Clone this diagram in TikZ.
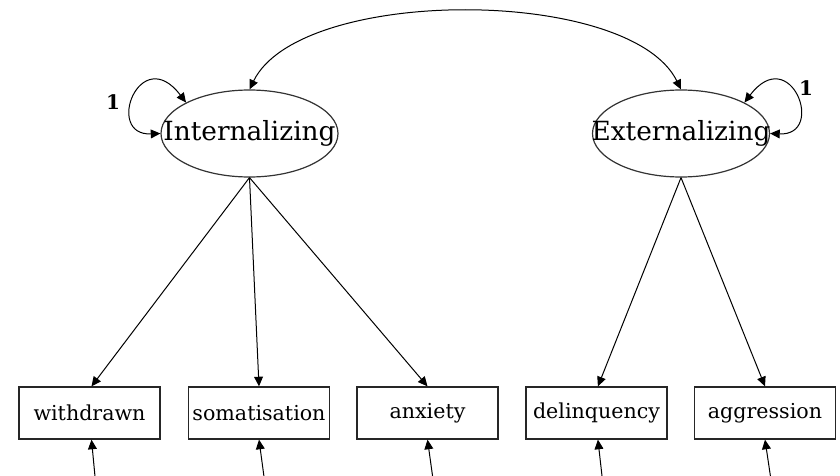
\documentclass[tikz,border=0pt]{standalone}
\usepackage{fontspec}
\setmainfont{DejaVu Serif}
\usetikzlibrary{arrows.meta,shapes.geometric}
\begin{document}
\begin{tikzpicture}[x=0.5pt,y=-0.5pt,
  latent/.style={ellipse,draw=black!80,line width=0.6pt,minimum width=88.5pt,minimum height=43.5pt,inner sep=0pt},
  latentname/.style={font=\fontsize{13.2}{15}\selectfont,inner sep=0pt},
  observed/.style={rectangle,draw=black!85,line width=0.65pt,minimum width=70.5pt,minimum height=26pt,inner sep=0pt,font=\fontsize{10.3}{12}\selectfont},
  link/.style={-{Triangle[length=4.8pt,width=4.4pt]},line width=0.5pt},
  twoway/.style={{Triangle[length=4.8pt,width=4.4pt]}-{Triangle[length=4.8pt,width=4.4pt]},line width=0.5pt},
  fixedval/.style={font=\bfseries\fontsize{10}{12}\selectfont,inner sep=0pt}
]
\clip (0,0) rectangle (840,476);

% latent factors
\node[latent,label={[latentname]center:Internalizing}] (int) at (249.5,133.5) {};
\node[latent,label={[latentname]center:Externalizing}] (ext) at (681,133.5) {};

% observed indicators
\node[observed] (wd)  at (89.5,413)  {withdrawn};
\node[observed] (som) at (259,413)   {somatisation};
\node[observed] (anx) at (427.5,413) {anxiety};
\node[observed] (del) at (596.5,413) {delinquency};
\node[observed] (agg) at (765,413)   {aggression};

% factor covariance
\draw[twoway] (int.north) .. controls (300,-14) and (630,-14) .. (ext.north);

% factor variances fixed to 1
\draw[twoway] (int.west) .. controls (104,136) and (140,42) .. (int.154);
\draw[twoway] (ext.east) .. controls (826.5,136) and (790.5,42) .. (ext.26);
\node[fixedval] (v1) at (113,102) {1};
\node[fixedval] (v2) at (806,88) {1};

% loadings
\draw[link] (int.south) -- ([xshift=1pt]wd.north);
\draw[link] (int.south) -- (som.north);
\draw[link] (int.south) -- (anx.north);
\draw[link] (ext.south) -- ([xshift=0.7pt]del.north);
\draw[link] (ext.south) -- (agg.north);

% residual terms entering from below
\coordinate (e1) at (96.3,490);
\coordinate (e2) at (265.8,490);
\coordinate (e3) at (434.5,490);
\coordinate (e4) at (603.6,490);
\coordinate (e5) at (772.5,490);
\draw[link] (e1) -- ([xshift=1pt]wd.south);
\draw[link] (e2) -- (som.south);
\draw[link] (e3) -- (anx.south);
\draw[link] (e4) -- ([xshift=0.7pt]del.south);
\draw[link] (e5) -- (agg.south);
\end{tikzpicture}
\end{document}
